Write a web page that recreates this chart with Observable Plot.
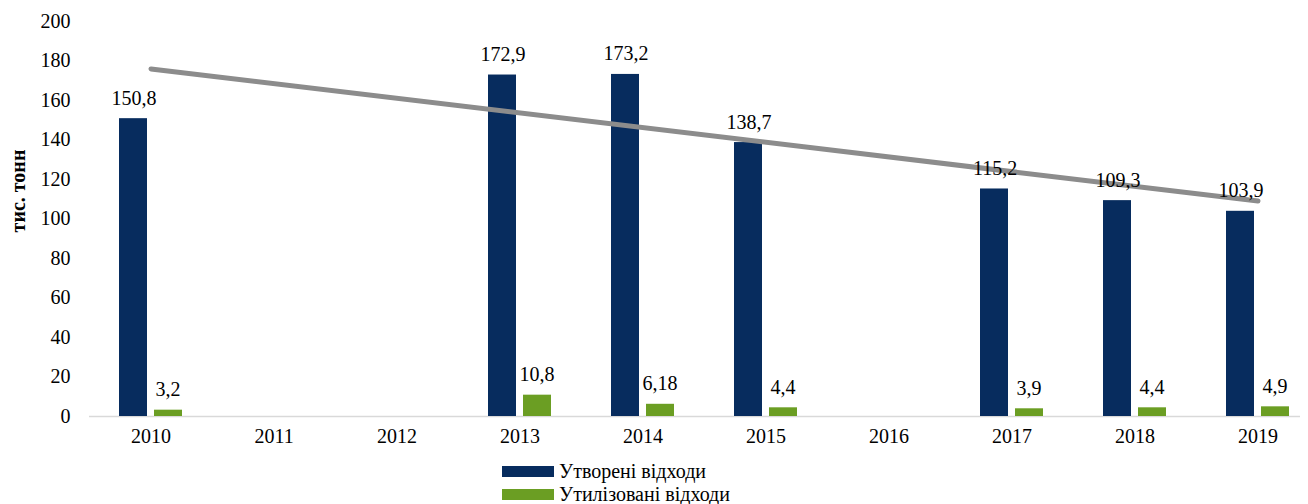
<!DOCTYPE html>
<html>
<head>
<meta charset="utf-8">
<script src="https://cdn.jsdelivr.net/npm/d3@7"></script>
<script src="https://cdn.jsdelivr.net/npm/@observablehq/plot@0.6"></script>
<style>
  html, body { margin: 0; padding: 0; background: #fff; }
  #chart { width: 1308px; }
  .legend { margin-left: 502px; margin-top: 2px; font-family: "Liberation Serif", "Times New Roman", "DejaVu Serif", serif; font-size: 20px; color: #000; }
  .legend .row { display: flex; align-items: center; height: 23px; }
  .legend .sw { width: 52px; height: 11px; margin-right: 5px; }
  svg text { font-family: "Liberation Serif", "Times New Roman", "DejaVu Serif", serif; }
</style>
</head>
<body>
<div id="chart"></div>
<script>
const years = ["2010","2011","2012","2013","2014","2015","2016","2017","2018","2019"];
const generated = [150.8, null, null, 172.9, 173.2, 138.7, null, 115.2, 109.3, 103.9];
const utilized  = [3.2, null, null, 10.8, 6.18, 4.4, null, 3.9, 4.4, 4.9];
const seriesNames = ["Утворені відходи", "Утилізовані відходи"];
const seriesColors = ["#072C5E", "#6B9E23"];
const trendYears = ["2010", "2019"];
const trendValues = [176.0, 109.1];
const yTicks = [0, 20, 40, 60, 80, 100, 120, 140, 160, 180, 200];

const genData = years.map((y, i) => ({year: y, v: generated[i]})).filter(d => d.v != null);
const utilData = years.map((y, i) => ({year: y, v: utilized[i]})).filter(d => d.v != null);
const trendData = trendYears.map((y, i) => ({year: y, v: trendValues[i]}));
const fmt = v => String(v).replace(".", ",");

const font = "'Liberation Serif', 'Times New Roman', serif";
const chart = Plot.plot({
  width: 1308,
  height: 458,
  marginTop: 21,
  marginBottom: 42,
  marginLeft: 89,
  marginRight: 8,
  style: {fontFamily: font, fontSize: "20px", color: "#000", background: "#fff"},
  x: {type: "band", domain: years, range: [89, 1319], padding: 0},
  y: {domain: [0, 200], range: [416, 21]},
  marks: [
    Plot.ruleY([0], {stroke: "#D9D9D9", strokeWidth: 1.5}),
    Plot.barY(genData, {x: "year", y: "v", fill: seriesColors[0], insetLeft: 30, insetRight: 65}),
    Plot.barY(utilData, {x: "year", y: "v", fill: seriesColors[1], insetLeft: 65, insetRight: 30}),
    Plot.lineY(trendData, {x: "year", y: "v", stroke: "#8C8C8C", strokeWidth: 5, strokeLinecap: "round"}),
    Plot.text(genData, {x: "year", y: "v", text: d => fmt(d.v), dx: -17, dy: -14, lineAnchor: "bottom", fontSize: 20, fill: "#000"}),
    Plot.text(utilData, {x: "year", y: "v", text: d => fmt(d.v), dx: 17, dy: -14, lineAnchor: "bottom", fontSize: 20, fill: "#000"}),
    Plot.axisX({tickSize: 0, tickPadding: 12, fontSize: 20, label: null}),
    Plot.axisY({ticks: yTicks, tickSize: 0, tickPadding: 19, fontSize: 20, label: null}),
    Plot.text(["тис. тонн"], {frameAnchor: "left", textAnchor: "middle", dx: -71, dy: -28, rotate: -90, fontWeight: "bold", fontSize: 20, fill: "#000"})
  ]
});
document.getElementById("chart").appendChild(chart);

const legend = document.createElement("div");
legend.className = "legend";
seriesNames.forEach((n, i) => {
  const row = document.createElement("div");
  row.className = "row";
  const sw = document.createElement("span");
  sw.className = "sw";
  sw.style.background = seriesColors[i];
  const t = document.createElement("span");
  t.textContent = n;
  row.appendChild(sw); row.appendChild(t);
  legend.appendChild(row);
});
document.getElementById("chart").appendChild(legend);
</script>
</body>
</html>
